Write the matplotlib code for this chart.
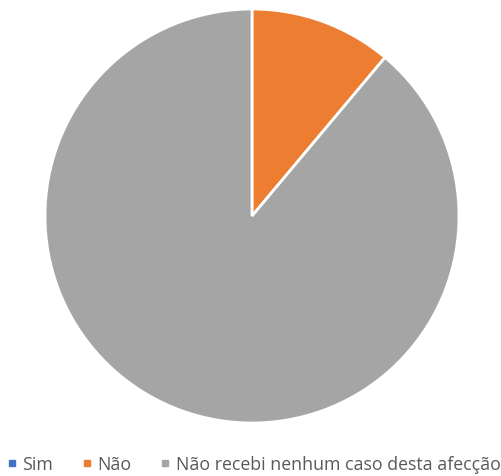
import matplotlib.pyplot as plt
from matplotlib.lines import Line2D

labels = ['Sim', 'Não', 'Não recebi nenhum caso desta afecção']
values = [0, 1, 8]
colors = ['#4472C4', '#ED7D31', '#A5A5A5']

plt.rcParams['font.family'] = ['Open Sans', 'DejaVu Sans']

fig = plt.figure(figsize=(5.02, 4.77), dpi=100)
ax = fig.add_axes([45 / 502, 53 / 477, 414 / 502, 414 / 477])
ax.pie(values, colors=colors, startangle=90, counterclock=False,
       wedgeprops=dict(edgecolor='white', linewidth=2), radius=1)
ax.set_xlim(-1, 1)
ax.set_ylim(-1, 1)
ax.set_aspect('equal')
ax.axis('off')

handles = [Line2D([], [], marker='s', linestyle='', markersize=5,
                  markerfacecolor=c, markeredgecolor=c) for c in colors]
fig.legend(handles, labels, loc='center', bbox_to_anchor=(0.505, 12 / 477),
           ncol=3, frameon=False, fontsize=12.8, handlelength=0.6,
           handletextpad=0.3, columnspacing=1.6, labelcolor='#595959')

fig.savefig('out.png', dpi=100)
